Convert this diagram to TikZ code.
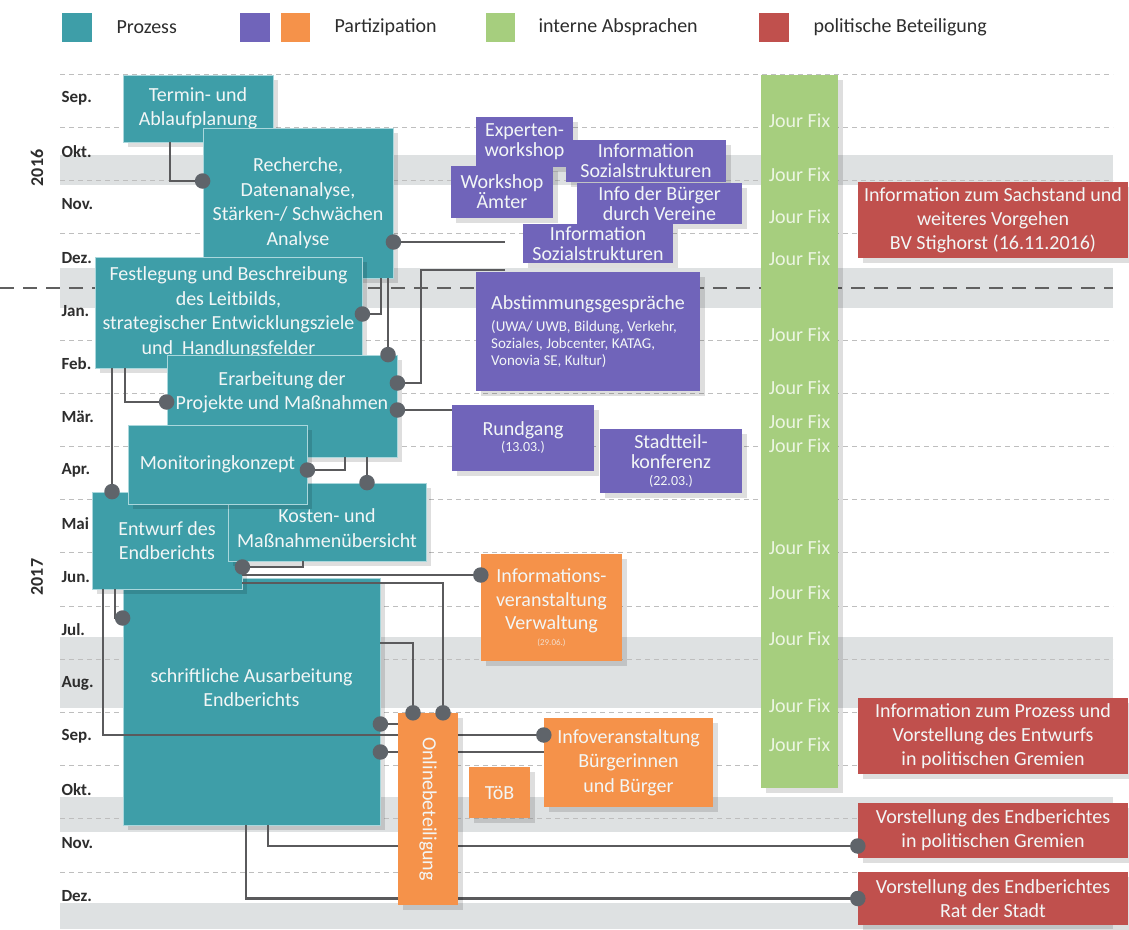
\documentclass[tikz,border=0pt]{standalone}
\usepackage{fontspec}
\setmainfont{Carlito}
\usetikzlibrary{shadows}
\definecolor{tealc}{RGB}{62,158,168}
\definecolor{tealborder}{RGB}{170,215,220}
\definecolor{purplec}{RGB}{112,100,186}
\definecolor{orangec}{RGB}{245,146,74}
\definecolor{greenc}{RGB}{166,206,126}
\definecolor{redc}{RGB}{192,80,77}
\definecolor{bandc}{RGB}{222,225,226}
\definecolor{gridc}{RGB}{190,190,190}
\definecolor{connc}{RGB}{90,90,92}
\definecolor{dotc}{RGB}{95,100,106}
\definecolor{boxtext}{RGB}{242,246,246}
\definecolor{labeltext}{RGB}{45,45,45}
\definecolor{jftext}{RGB}{236,245,226}
\begin{document}
\begin{tikzpicture}[x=1pt,y=-1pt,
  wh/.style 2 args={minimum width=#1pt,minimum height=#2pt},
  box/.style={rectangle,inner sep=0pt,text=boxtext,align=center,
    font=\fontsize{20}{24.5}\selectfont,
    drop shadow={shadow xshift=5pt,shadow yshift=-5pt,fill=black,opacity=0.13}},
  tbox/.style={box,fill=tealc,draw=tealborder,line width=0.8pt},
  pbox/.style={box,fill=purplec,font=\fontsize{20}{20}\selectfont},
  obox/.style={box,fill=orangec},
  rbox/.style={box,fill=redc,font=\fontsize{20}{24}\selectfont},
  month/.style={anchor=west,text=labeltext,font=\bfseries\fontsize{17}{17}\selectfont},
  year/.style={text=labeltext,rotate=90,font=\bfseries\fontsize{18}{18}\selectfont},
  legtext/.style={anchor=west,text=labeltext,font=\fontsize{20}{20}\selectfont},
  jf/.style={text=jftext,font=\fontsize{20}{20}\selectfont},
  grid/.style={gridc,line width=0.8pt,dash pattern=on 5pt off 4pt},
  conn/.style={connc,line width=2.5pt},
  dot/.style={circle,fill=dotc,inner sep=0pt,minimum size=15.5pt},
  band/.style={fill=bandc}]
\fill[white] (0,0) rectangle (1129,929);
\useasboundingbox (0,0) rectangle (1129,929);
% bands
\fill[band] (60,155) rectangle (1113,185);
\fill[band] (60,268) rectangle (1113,308);
\fill[band] (60,637) rectangle (1113,708);
\fill[band] (60,797) rectangle (1113,832);
\fill[band] (60,903) rectangle (1113,929);
% grid lines
\foreach \k in {0,1,2,3,5,6,7,8,9,10,11,12,13,14,15}{
  \draw[grid] (60,{74+53.2*\k}) -- (1113,{74+53.2*\k});
}
\draw[gray!75!black,line width=1.4pt,dash pattern=on 14pt off 9pt] (0,288) -- (1113,288);
% legend
\fill[tealc] (62,13) rectangle (92,42);
\node[legtext] (lprozess) at (113,27) {Prozess};
\fill[purplec] (240,13) rectangle (270,42);
\fill[orangec] (281,13) rectangle (310,42);
\node[legtext] (lpart) at (331,27) {Partizipation};
\fill[greenc] (486,13) rectangle (515,42);
\node[legtext] (linterne) at (535,27) {interne Absprachen};
\fill[redc] (759,13) rectangle (789,42);
\node[legtext] (lpolit) at (810,27) {politische Beteiligung};
% months
\foreach \m [count=\i from 0] in {Sep.,Okt.,Nov.,Dez.,Jan.,Feb.,Mär.,Apr.,Mai,Jun.,Jul.,Aug.,Sep.,Okt.,Nov.,Dez.}{
  \node[month] (m\i) at (58,{98+53.2*\i}) {\m};
}
\node[year] (y2016) at (37,168) {2016};
\node[year] (y2017) at (37,577) {2017};
% green column
\node[box,fill=greenc,wh={77}{713}] (jourfix) at (799.5,431.5) {};
\foreach \y [count=\j] in {121,175,217,259,335,388,422,446,548,593,639,706,745}{
  \node[jf] (jf\j) at (799.5,\y) {Jour Fix};
}
% teal boxes
\node[tbox,wh={150}{67}] (termin) at (198,108.5) {Termin- und\\Ablaufplanung};
\node[tbox,wh={190}{150}] (recherche) at (298,203) {Recherche,\\Datenanalyse,\\Stärken-/ Schwächen\\Analyse};
\node[tbox,wh={267}{111}] (festlegung) at (228.5,312.5) {Festlegung und Beschreibung\\des Leitbilds,\\strategischer Entwicklungsziele\\und\ \ Handlungsfelder};
\node[tbox,wh={230}{102}] (erarbeitung) at (282,406) {Erarbeitung der\\Projekte und Maßnahmen\\[6pt]};
\node[tbox,wh={257}{247}] (schrift) at (251.5,701.5) {schriftliche Ausarbeitung\\Endberichts\\[3pt]};
\node[tbox,wh={150}{97}] (entwurf) at (167,540.5) {Entwurf des\\Endberichts};
\node[tbox,wh={198}{78}] (kosten) at (327,522) {\rule{0pt}{26pt}Kosten- und\\Maßnahmenübersicht};
\node[tbox,wh={179}{79}] (monitoring) at (217.5,464.5) {Monitoringkonzept};
% purple boxes
\node[pbox,wh={97}{50}] (expert) at (524.5,142) {Experten-\\workshop};
\node[pbox,wh={160}{42}] (info1) at (646,161) {Information\\Sozialstrukturen};
\node[pbox,wh={102}{52}] (workshop) at (502,192) {Workshop\\Ämter};
\node[pbox,wh={165}{41}] (buerger) at (659.5,203.5) {Info der Bürger\\durch Vereine};
\node[pbox,wh={150}{39}] (info2) at (598,243.5) {Information\\Sozialstrukturen};
\node[pbox,wh={224}{119},align=left,font=\fontsize{15}{17}\selectfont] (abstimm) at (588,331.5) {{\fontsize{20}{20}\selectfont Abstimmungsgespräche}\\[5pt](UWA/ UWB, Bildung, Verkehr,\\Soziales, Jobcenter, KATAG,\\Vonovia SE, Kultur)};
\node[pbox,wh={142}{66},font=\fontsize{20}{16}\selectfont] (rundgang) at (523,438) {Rundgang\\{\fontsize{14}{14}\selectfont (13.03.)}};
\node[pbox,wh={142}{64},font=\fontsize{20}{20}\selectfont] (stadtteil) at (671,461) {Stadtteil-\\konferenz\\[-3pt]{\fontsize{14}{14}\selectfont (22.03.)}};
% orange boxes
\node[obox,wh={141}{107},font=\fontsize{20}{23.5}\selectfont] (infover) at (551.5,607.5) {Informations-\\veranstaltung\\Verwaltung\\[-8pt]{\fontsize{9}{9}\selectfont\color{boxtext!75!orangec}(29.06.)}};
\node[obox,wh={169}{89}] (infobuerg) at (628.5,762.5) {Infoveranstaltung\\Bürgerinnen\\und Bürger};
\node[obox,wh={61}{51}] (toeb) at (499.5,792.5) {TöB};
% red boxes
\node[rbox,wh={270}{76}] (red1) at (993,220) {Information zum Sachstand und\\weiteres Vorgehen\\BV Stighorst (16.11.2016)};
\node[rbox,wh={270}{76}] (red2) at (993,736) {Information zum Prozess und\\Vorstellung des Entwurfs\\in politischen Gremien};
\node[rbox,wh={270}{55}] (red3) at (993,830.5) {Vorstellung des Endberichtes\\in politischen Gremien};
\node[rbox,wh={270}{53}] (red4) at (993,898.5) {Vorstellung des Endberichtes\\Rat der Stadt};
% online box placed for anchors (drawn later)
\path (428,809) node[inner sep=0pt,wh={60}{192}] (onlinepos) {};
% dots positions
\coordinate (d1) at ([yshift=22pt]recherche.west);
\coordinate (d2) at ([yshift=-39pt]recherche.east);
\coordinate (d3) at ([yshift=-1.5pt]festlegung.east);
\coordinate (d4) at ([xshift=106pt]erarbeitung.north);
\coordinate (d5) at ([yshift=23pt]erarbeitung.east);
\coordinate (d6) at ([yshift=-4pt]erarbeitung.east);
\coordinate (d7) at ([yshift=4pt]erarbeitung.west);
\coordinate (d8) at ([xshift=40pt]kosten.north);
\coordinate (d9) at ([yshift=-5.5pt]monitoring.east);
\coordinate (d10) at ([xshift=-55pt]entwurf.north);
\coordinate (d11) at ([yshift=-26.5pt]entwurf.east);
\coordinate (d12) at ([yshift=32.5pt]infover.west);
\coordinate (d13) at ([yshift=83.5pt]schrift.west);
\coordinate (d14) at ([xshift=-15pt]onlinepos.north);
\coordinate (d15) at ([xshift=15pt]onlinepos.north);
\coordinate (d16) at ([yshift=-22.5pt]schrift.east);
\coordinate (d17) at ([yshift=-50.5pt]schrift.east);
\coordinate (d18) at ([yshift=27.5pt]infobuerg.west);
\coordinate (d19) at ([yshift=-15.5pt]red3.west);
\coordinate (d20) at (red4.west);
\coordinate (e1) at (505,242);
\coordinate (e2) at (505,270);
% connectors
\draw[conn] ([xshift=-28pt]termin.south) |- (d1);
\draw[conn] (d2) -- (e1);
\draw[conn] (e2) -- ++(-84,0) |- (d5);
\draw[conn] ([xshift=83pt]recherche.south) |- (d3);
\draw[conn] ([xshift=90pt]recherche.south) -- (d4);
\draw[conn] (d6) -- (rundgang.west |- d6);
\draw[conn] ([xshift=-103.5pt]festlegung.south) |- (d7);
\draw[conn] (d10 |- festlegung.south) -- (d10);
\draw[conn] (d9) -| ([xshift=63pt]erarbeitung.south);
\draw[conn] (d8 |- erarbeitung.south) -- (d8);
\draw[conn] ([xshift=-24pt]kosten.south) |- (d11);
\draw[conn] (entwurf.east |- d12) -- (d12);
\draw[conn] ([yshift=-42.5pt]entwurf.east) -| (d15);
\draw[conn] ([yshift=58.5pt]schrift.east) -| (d14);
\draw[conn] ([xshift=-52pt]entwurf.south) |- (d13);
\draw[conn] ([xshift=-64pt]entwurf.south) |- (d18);
\draw[conn] (d16) -- (onlinepos.west |- d16);
\draw[conn] (d17) -- (infobuerg.west |- d17);
\draw[conn] ([xshift=16.5pt]schrift.south) |- (d19);
\draw[conn] ([xshift=-5.5pt]schrift.south) |- (d20);
% online box on top of connectors
\node[obox,wh={60}{192}] (online) at (onlinepos) {\rotatebox{-90}{Onlinebeteiligung}};
% dots
\foreach \d in {d1,d2,d3,d4,d5,d6,d7,d8,d9,d10,d11,d12,d13,d14,d15,d16,d17,d18,d19,d20}{
  \node[dot] at (\d) {};
}
\end{tikzpicture}
\end{document}
